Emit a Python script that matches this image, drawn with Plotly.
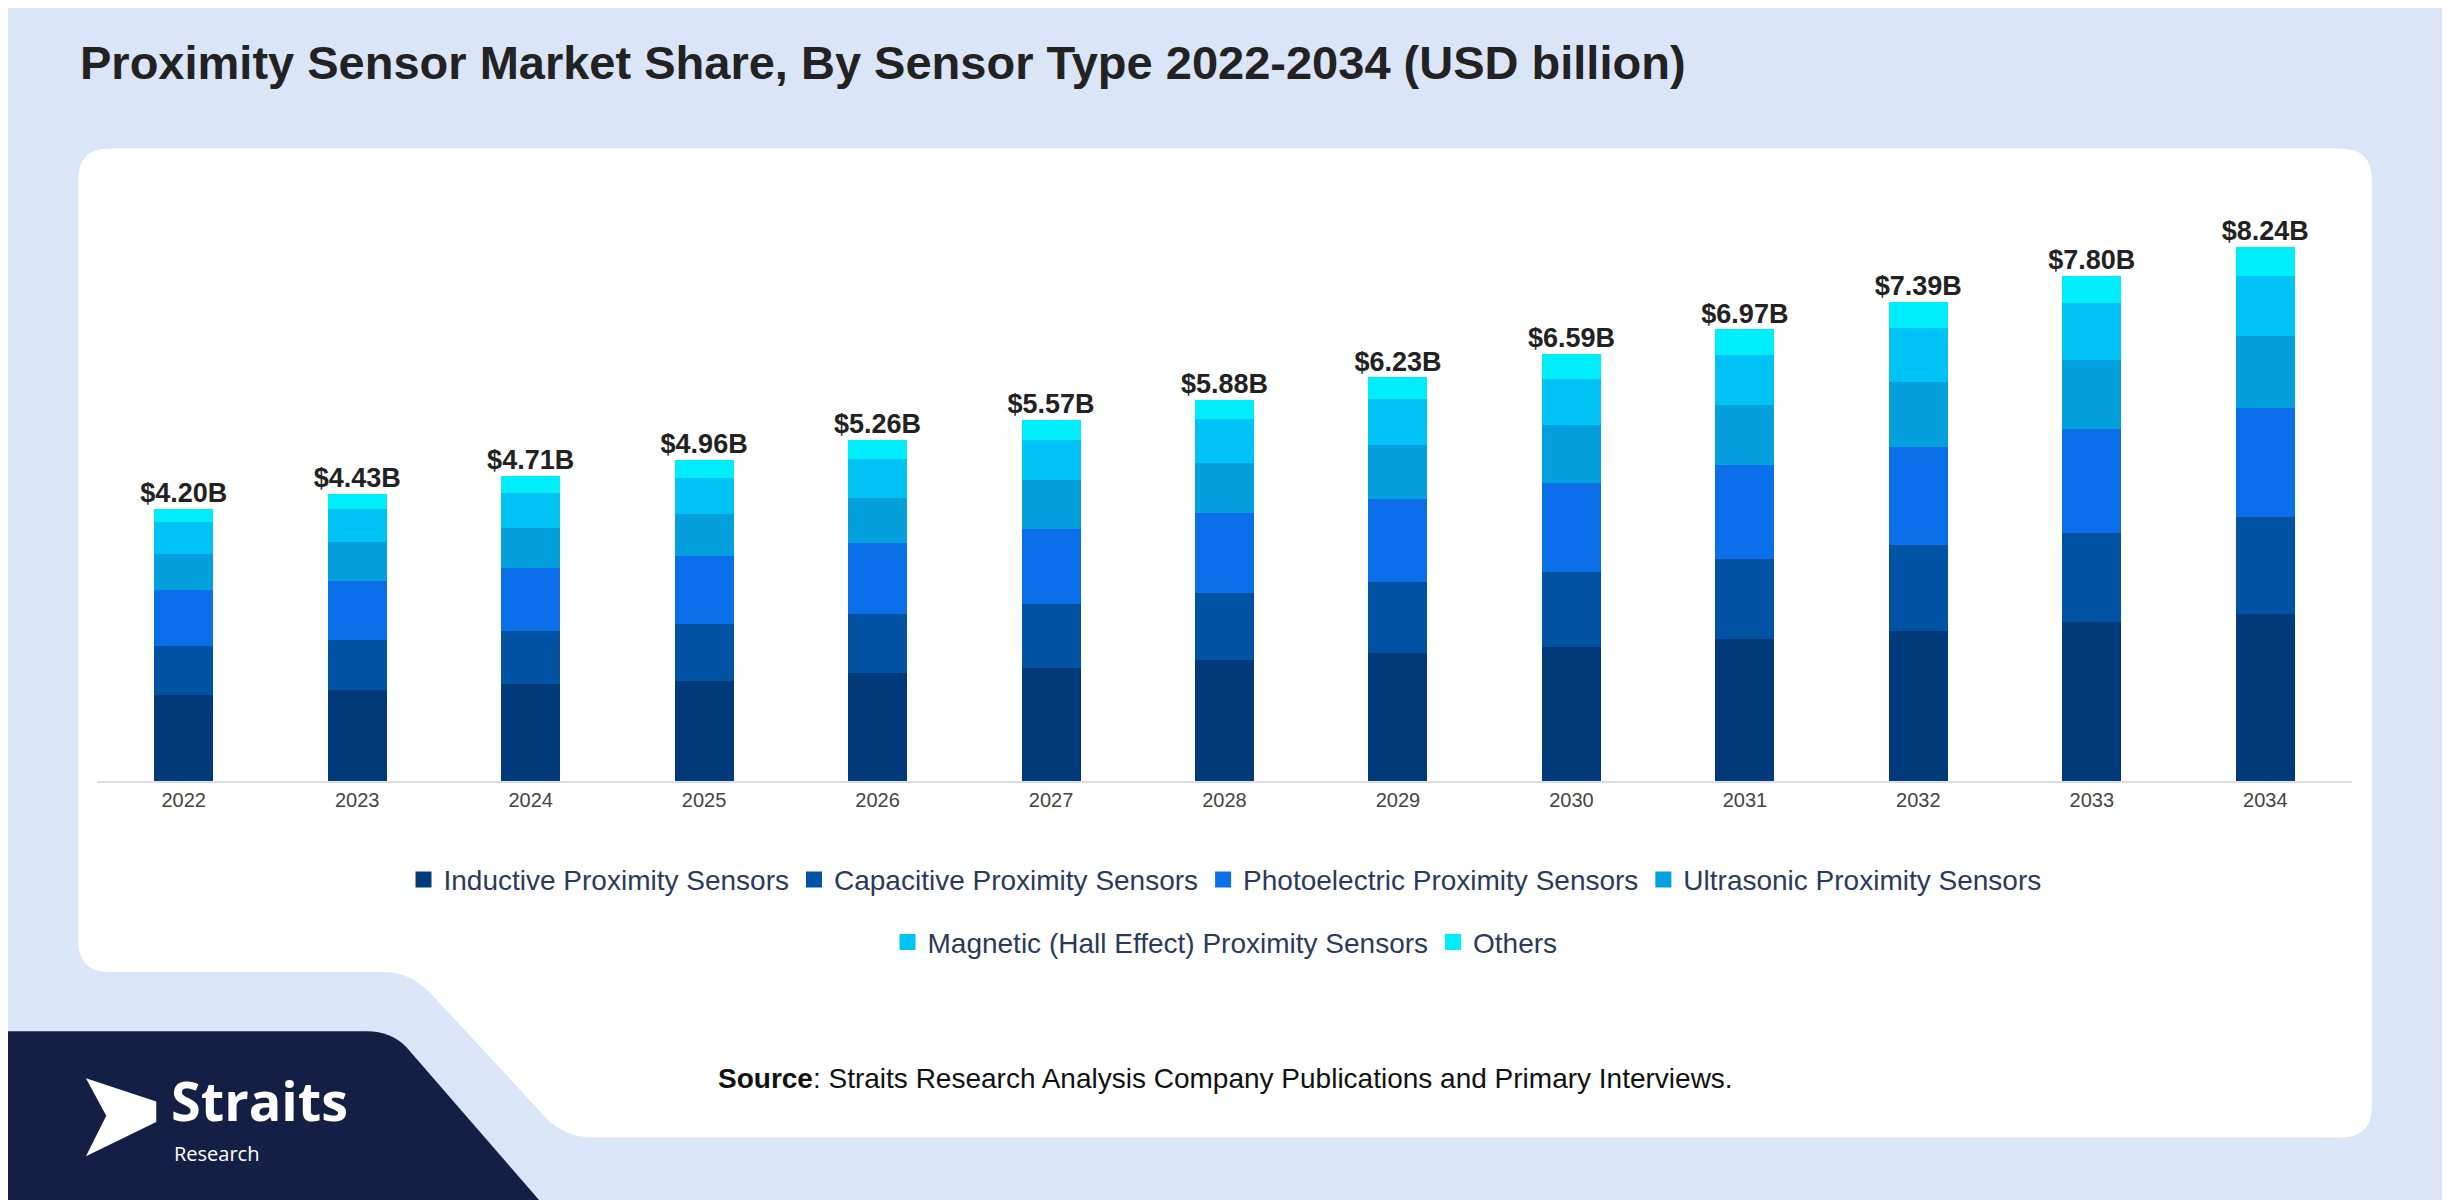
import plotly.graph_objects as go

years = ["2022","2023","2024","2025","2026","2027","2028","2029","2030","2031","2032","2033","2034"]
inductive = [1.33,1.40,1.49,1.54,1.66,1.74,1.86,1.98,2.07,2.19,2.31,2.46,2.58]
capacitive = [0.75,0.77,0.82,0.89,0.92,0.99,1.04,1.09,1.16,1.23,1.33,1.37,1.49]
photoelectric = [0.87,0.92,0.97,1.04,1.09,1.16,1.23,1.28,1.37,1.45,1.52,1.61,1.69]
ultrasonic = [0.56,0.60,0.63,0.65,0.70,0.75,0.77,0.84,0.89,0.94,0.99,1.06,1.11]
magnetic = [0.48,0.51,0.53,0.56,0.60,0.63,0.68,0.70,0.72,0.77,0.84,0.87,0.92]
others = [0.21,0.23,0.27,0.28,0.29,0.30,0.30,0.34,0.38,0.39,0.40,0.43,0.45]
totals = [4.20,4.43,4.71,4.96,5.26,5.57,5.88,6.23,6.59,6.97,7.39,7.80,8.24]

series = [
    ("Inductive Proximity Sensors", inductive, "#003a7a"),
    ("Capacitive Proximity Sensors", capacitive, "#0052a3"),
    ("Photoelectric Proximity Sensors", photoelectric, "#0a6fe8"),
    ("Ultrasonic Proximity Sensors", ultrasonic, "#03a0dd"),
    ("Magnetic (Hall Effect) Proximity Sensors", magnetic, "#00c3f5"),
    ("Others", others, "#00eefc"),
]

S = 2450/1568
OFF = 8  # page body margin
W, H = 2450, 1200
L, R, T, B = 89, 106, 195, 427
PW, PH = W-L-R, H-T-B

def px(x): return (x*S - OFF - L)/PW
def py(y): return (H - B - (y*S - OFF))/PH

fig = go.Figure()
for i, (name, vals, col) in enumerate(series):
    fig.add_trace(go.Bar(x=years, y=vals, name=name, marker_color=col, width=0.34,
                         marker_line_width=0, showlegend=False))
for i, (name, vals, col) in enumerate(series):
    fig.add_trace(go.Scatter(x=[None], y=[None], mode="markers", name=name,
                             marker=dict(symbol="square", size=30, color=col),
                             legend="legend" if i < 4 else "legend2"))
fig.add_trace(go.Scatter(x=years, y=totals, mode="text",
                         text=[f"<b>${v:.2f}B</b>" for v in totals], textposition="top center",
                         textfont=dict(size=27, color="#222", family="Liberation Sans"),
                         showlegend=False, hoverinfo="skip", cliponaxis=False))

shapes = []
shapes.append(dict(type="rect", xref="paper", yref="paper", x0=px(-10), x1=px(1580), y0=py(780), y1=py(-10),
                   fillcolor="#dae6f8", line_width=0, layer="below"))
def P(x, y): return f"{px(x)},{py(y)}"
r = 20
path = (f"M {P(50+r,95)} L {P(1518-r,95)} Q {P(1518,95)} {P(1518,95+r)} "
        f"L {P(1518,728-r)} Q {P(1518,728)} {P(1518-r,728)} L {P(380,728)} "
        f"Q {P(362,728)} {P(350,716)} L {P(275,635)} Q {P(262,622)} {P(245,622)} "
        f"L {P(50+r,622)} Q {P(50,622)} {P(50,622-r)} L {P(50,95+r)} Q {P(50,95)} {P(50+r,95)} Z")
shapes.append(dict(type="path", xref="paper", yref="paper", path=path, fillcolor="white",
                   line_width=0, layer="below"))
navy = f"M {P(0,660)} L {P(235,660)} Q {P(250,660)} {P(260,670)} L {P(345,768)} L {P(0,768)} Z"
shapes.append(dict(type="path", xref="paper", yref="paper", path=navy, fillcolor="#141f45",
                   line_width=0, layer="below"))
icon = f"M {P(55,690)} L {P(100,705)} L {P(100,718)} L {P(55,740)} L {P(68,714)} Z"
shapes.append(dict(type="path", xref="paper", yref="paper", path=icon, fillcolor="white",
                   line_width=0, layer="above"))

ann = [
    dict(text="<b>Proximity Sensor Market Share, By Sensor Type 2022-2034 (USD billion)</b>",
         x=px(50), y=py(40), xref="paper", yref="paper", xanchor="left", yanchor="middle",
         showarrow=False, font=dict(size=47, color="#222", family="Liberation Sans")),
    dict(text="<b>Source</b>: Straits Research Analysis Company Publications and Primary Interviews.",
         x=px(784), y=py(690), xref="paper", yref="paper", xanchor="center", yanchor="middle",
         showarrow=False, font=dict(size=28, color="#111", family="Liberation Sans")),
    dict(text="<b>Straits</b>", x=px(108), y=py(704), xref="paper", yref="paper", xanchor="left",
         yanchor="middle", showarrow=False, font=dict(size=54, color="white", family="Open Sans")),
    dict(text="Research", x=px(110), y=py(738), xref="paper", yref="paper", xanchor="left",
         yanchor="middle", showarrow=False, font=dict(size=20, color="white", family="Open Sans")),
]

legfont = dict(size=28, color="#2a3a5a", family="Liberation Sans")
fig.update_layout(
    width=W, height=H, barmode="stack", shapes=shapes, annotations=ann,
    margin=dict(l=L, r=R, t=T, b=B), paper_bgcolor="#dae6f8", plot_bgcolor="white",
    font=dict(family="Liberation Sans"),
    legend=dict(orientation="h", x=px(784), xanchor="center", y=py(563), yanchor="middle",
                font=legfont, bgcolor="rgba(0,0,0,0)", itemsizing="trace", traceorder="normal"),
    legend2=dict(orientation="h", x=px(784), xanchor="center", y=py(603), yanchor="middle",
                 font=legfont, bgcolor="rgba(0,0,0,0)", itemsizing="trace", traceorder="normal"),
    xaxis=dict(showgrid=False, showline=True, linecolor="#dddddd", linewidth=2,
               tickfont=dict(size=20, color="#444"), ticks="", range=[-0.5, 12.5]),
    yaxis=dict(range=[0, 8.92], visible=False),
)
fig.write_html("out.html")
